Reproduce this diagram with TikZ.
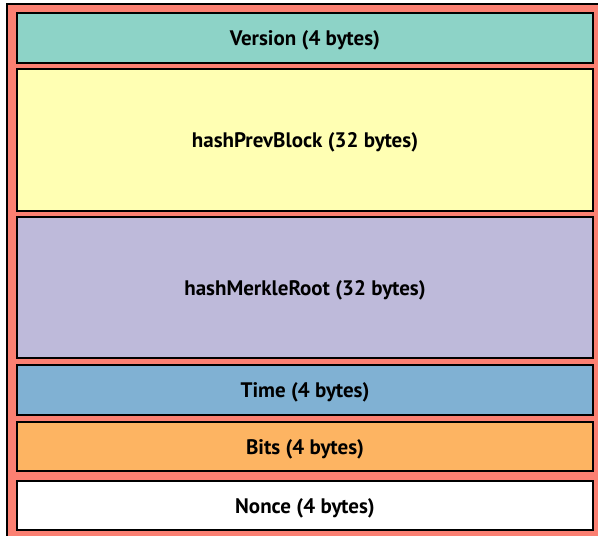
\documentclass[tikz,border=0pt]{standalone}
\usepackage{fontspec}
\setmainfont{PT Sans}
\begin{document}
\begin{tikzpicture}[x=1pt,y=-1pt,
  field/.style={draw=black,line width=2pt,font=\bfseries\fontsize{21}{24}\selectfont},
  lbl/.style={yshift=-2.5pt},
]
\useasboundingbox (0,0) rectangle (598,536);
\definecolor{cSalmon}{HTML}{FB8072}
\definecolor{cTeal}{HTML}{8DD3C7}
\definecolor{cYellow}{HTML}{FFFFB3}
\definecolor{cLav}{HTML}{BEBADA}
\definecolor{cBlue}{HTML}{80B1D3}
\definecolor{cOrange}{HTML}{FDB462}
% block header container
\draw[fill=cSalmon,line width=2pt] (7,4) rectangle (604,544);
% header fields
\draw[field,fill=cTeal] (17,13) rectangle (593,63) node[midway,lbl] (version) {Version (4 bytes)};
\draw[field,fill=cYellow] (17,69) rectangle (593,211) node[midway,lbl] (prev) {hashPrevBlock (32 bytes)};
\draw[field,fill=cLav] (17,217) rectangle (593,358) node[midway,lbl] (merkle) {hashMerkleRoot (32 bytes)};
\draw[field,fill=cBlue] (17,365) rectangle (593,415) node[midway,lbl] (time) {Time (4 bytes)};
\draw[field,fill=cOrange] (17,422) rectangle (593,471) node[midway,lbl] (bits) {Bits (4 bytes)};
\draw[field,fill=white] (17,481) rectangle (593,530) node[midway,lbl] (nonce) {Nonce (4 bytes)};
\end{tikzpicture}
\end{document}
